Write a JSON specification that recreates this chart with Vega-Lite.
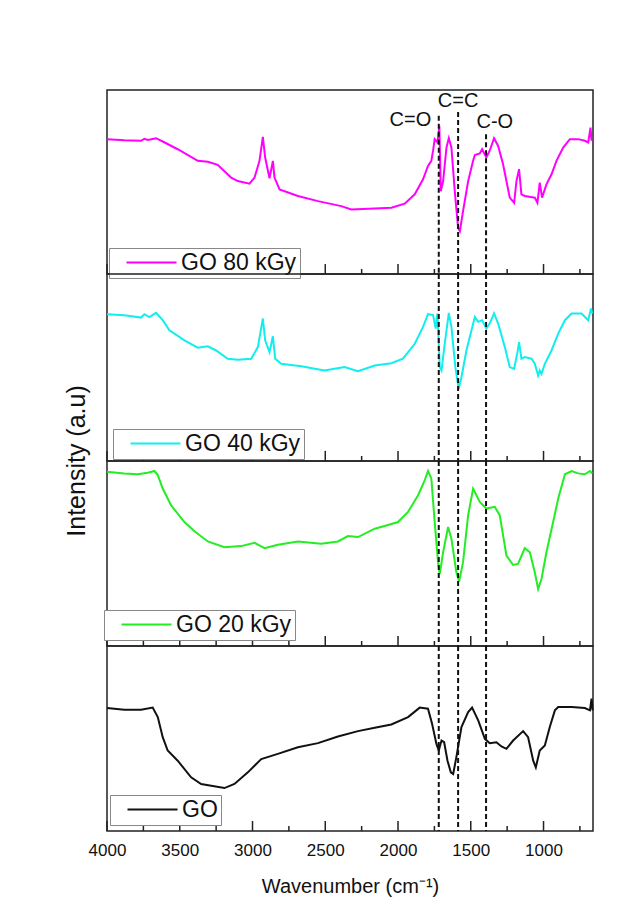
{
  "$schema": "https://vega.github.io/schema/vega-lite/v6.json",
  "background": "white",
  "padding": {"left": 63, "top": 89, "right": 46, "bottom": 10},
  "spacing": 0,
  "bounds": "flush",
  "config": {
    "font": "Liberation Sans",
    "view": {"stroke": "#222", "strokeWidth": 1.5},
    "axis": {"grid": false, "domain": false, "ticks": false},
    "legend": {"orient": "none", "title": null, "strokeColor": "#888", "fillColor": "white", "padding": 3, "labelFontSize": 23, "labelColor": "#111",
               "symbolType": "M-5,0H5", "symbolSize": 100, "symbolStrokeWidth": 2, "symbolOffset": 28, "labelOffset": 18, "labelLimit": 300}
  },
  "resolve": {"scale": {"color": "independent", "y": "independent"}, "legend": {"color": "independent"}},
  "datasets": {
    "tmaj": [{"w":4000},{"w":3500},{"w":3000},{"w":2500},{"w":2000},{"w":1500},{"w":1000}],
    "tmin": [{"w":3750},{"w":3250},{"w":2750},{"w":2250},{"w":1750},{"w":1250},{"w":750}],
    "marks": [
      {"w": 1720, "top": 86, "label": "C=O", "lx": 1915, "ly": 83.6},
      {"w": 1587, "top": 88, "label": "C=C", "lx": 1587, "ly": 94},
      {"w": 1395, "top": 76, "label": "C-O", "lx": 1335, "ly": 82.4}
    ],
    "s80": [
      {"w":4000,"v":73.3},{"w":3881,"v":72.7},{"w":3766,"v":72.4},{"w":3743,"v":73.5},{"w":3720,"v":72.8},{"w":3663,"v":73.8},{"w":3617,"v":72},{"w":3514,"v":67.8},{"w":3376,"v":61.5},{"w":3307,"v":61},{"w":3239,"v":59.3},{"w":3147,"v":52.4},{"w":3101,"v":50.5},{"w":3021,"v":49.1},{"w":2986,"v":52.4},{"w":2952,"v":61.5},{"w":2929,"v":74.5},{"w":2913,"v":63.3},{"w":2883,"v":52},{"w":2860,"v":61.5},{"w":2849,"v":52.4},{"w":2814,"v":46},{"w":2688,"v":42.4},{"w":2550,"v":39.6},{"w":2390,"v":36.9},{"w":2321,"v":35.1},{"w":2161,"v":35.6},{"w":2046,"v":36},{"w":1954,"v":38.2},{"w":1885,"v":43.3},{"w":1828,"v":51.5},{"w":1794,"v":58.7},{"w":1771,"v":61.5},{"w":1759,"v":67},{"w":1748,"v":73.3},{"w":1729,"v":71.5},{"w":1716,"v":80.5},{"w":1706,"v":45},{"w":1690,"v":50.5},{"w":1667,"v":68.7},{"w":1651,"v":73.8},{"w":1633,"v":68.7},{"w":1610,"v":45},{"w":1587,"v":25},{"w":1575,"v":23.3},{"w":1553,"v":34.2},{"w":1518,"v":50.5},{"w":1484,"v":61.5},{"w":1472,"v":64.7},{"w":1438,"v":65.5},{"w":1422,"v":67.8},{"w":1393,"v":63.3},{"w":1370,"v":67},{"w":1340,"v":73.8},{"w":1312,"v":69.6},{"w":1278,"v":59.6},{"w":1232,"v":41.5},{"w":1202,"v":38.7},{"w":1186,"v":50.5},{"w":1168,"v":57},{"w":1152,"v":43.3},{"w":1129,"v":42.4},{"w":1060,"v":41.5},{"w":1042,"v":38.7},{"w":1026,"v":49.6},{"w":1010,"v":41.5},{"w":980,"v":48.7},{"w":945,"v":54.2},{"w":911,"v":61.5},{"w":865,"v":68.7},{"w":819,"v":73.3},{"w":761,"v":73.3},{"w":716,"v":72.4},{"w":693,"v":71.5},{"w":677,"v":79.6},{"w":670,"v":72.4}
    ],
    "s40": [
      {"w":4000,"v":78.5},{"w":3881,"v":78},{"w":3766,"v":76.7},{"w":3743,"v":78.5},{"w":3709,"v":77},{"w":3663,"v":79.2},{"w":3617,"v":75.3},{"w":3571,"v":69.9},{"w":3468,"v":64.5},{"w":3376,"v":60.6},{"w":3307,"v":61.3},{"w":3250,"v":59.1},{"w":3170,"v":54.7},{"w":3101,"v":54.1},{"w":3009,"v":54.7},{"w":2963,"v":60.9},{"w":2929,"v":76.2},{"w":2913,"v":64.5},{"w":2883,"v":58.2},{"w":2860,"v":66.7},{"w":2844,"v":54.7},{"w":2803,"v":52},{"w":2665,"v":50.7},{"w":2505,"v":48.4},{"w":2367,"v":50.2},{"w":2275,"v":48},{"w":2160,"v":51.1},{"w":2046,"v":52.3},{"w":1966,"v":54.7},{"w":1885,"v":62.7},{"w":1828,"v":71.7},{"w":1794,"v":78.5},{"w":1759,"v":78},{"w":1741,"v":70.8},{"w":1729,"v":78.9},{"w":1713,"v":50.2},{"w":1701,"v":48.4},{"w":1679,"v":62.7},{"w":1651,"v":79.2},{"w":1633,"v":71.7},{"w":1606,"v":50.2},{"w":1583,"v":38.5},{"w":1564,"v":44.8},{"w":1530,"v":59.1},{"w":1495,"v":69.9},{"w":1472,"v":77.1},{"w":1449,"v":74.4},{"w":1422,"v":75.3},{"w":1393,"v":70.8},{"w":1370,"v":73.5},{"w":1340,"v":78.9},{"w":1312,"v":73.5},{"w":1266,"v":60.9},{"w":1232,"v":50.2},{"w":1202,"v":49.3},{"w":1179,"v":58.2},{"w":1168,"v":63.6},{"w":1152,"v":54.7},{"w":1129,"v":55.6},{"w":1083,"v":54.7},{"w":1060,"v":52},{"w":1037,"v":45.7},{"w":1026,"v":48.4},{"w":1014,"v":46.6},{"w":991,"v":52},{"w":945,"v":59.1},{"w":899,"v":68.1},{"w":853,"v":75.3},{"w":807,"v":78.9},{"w":739,"v":78.9},{"w":693,"v":75.3},{"w":674,"v":81.5},{"w":665,"v":78.9}
    ],
    "s20": [
      {"w":4000,"v":94.2},{"w":3881,"v":93.3},{"w":3789,"v":92.8},{"w":3720,"v":93.7},{"w":3674,"v":94.6},{"w":3651,"v":92.4},{"w":3617,"v":85.1},{"w":3560,"v":76.1},{"w":3468,"v":67},{"w":3399,"v":62},{"w":3307,"v":56.5},{"w":3193,"v":53.4},{"w":3078,"v":54},{"w":2986,"v":55.8},{"w":2917,"v":52.9},{"w":2826,"v":54.7},{"w":2688,"v":56.5},{"w":2528,"v":55.3},{"w":2413,"v":56.5},{"w":2344,"v":59.4},{"w":2275,"v":58.9},{"w":2160,"v":63.4},{"w":2092,"v":64.9},{"w":2000,"v":67},{"w":1931,"v":72.5},{"w":1862,"v":81.5},{"w":1816,"v":89.7},{"w":1794,"v":94.6},{"w":1771,"v":90.6},{"w":1748,"v":67},{"w":1725,"v":45.3},{"w":1713,"v":38.9},{"w":1690,"v":50.7},{"w":1656,"v":64.3},{"w":1633,"v":58},{"w":1599,"v":39.9},{"w":1580,"v":34.8},{"w":1553,"v":45.3},{"w":1518,"v":70.7},{"w":1484,"v":85.1},{"w":1438,"v":77.9},{"w":1393,"v":74.3},{"w":1335,"v":75.2},{"w":1301,"v":70.7},{"w":1255,"v":48.9},{"w":1209,"v":43.8},{"w":1175,"v":44.4},{"w":1129,"v":52.9},{"w":1094,"v":50.7},{"w":1060,"v":39.9},{"w":1037,"v":30.8},{"w":1014,"v":36.2},{"w":980,"v":50.7},{"w":934,"v":67},{"w":899,"v":79.7},{"w":853,"v":92.8},{"w":807,"v":94.6},{"w":761,"v":93.3},{"w":716,"v":92.8},{"w":681,"v":94.6},{"w":665,"v":93.3}
    ],
    "s0": [
      {"w":4000,"v":66.5},{"w":3881,"v":65.6},{"w":3766,"v":65.6},{"w":3686,"v":66.7},{"w":3651,"v":61.6},{"w":3617,"v":50.7},{"w":3583,"v":43.5},{"w":3514,"v":38},{"w":3422,"v":29},{"w":3353,"v":25.4},{"w":3284,"v":24.5},{"w":3193,"v":23.2},{"w":3124,"v":25.4},{"w":3032,"v":31.7},{"w":2940,"v":38.9},{"w":2826,"v":41.7},{"w":2688,"v":45.3},{"w":2550,"v":47.5},{"w":2413,"v":51.1},{"w":2275,"v":54},{"w":2160,"v":55.8},{"w":2046,"v":57.6},{"w":1931,"v":61.6},{"w":1851,"v":66.7},{"w":1794,"v":66.1},{"w":1766,"v":58},{"w":1736,"v":47.1},{"w":1720,"v":43.5},{"w":1701,"v":48.9},{"w":1683,"v":48},{"w":1660,"v":38},{"w":1637,"v":31.7},{"w":1621,"v":30.8},{"w":1599,"v":39.9},{"w":1564,"v":56.2},{"w":1518,"v":64.3},{"w":1491,"v":66.7},{"w":1449,"v":59.8},{"w":1403,"v":49.8},{"w":1370,"v":47.5},{"w":1324,"v":48},{"w":1289,"v":45.7},{"w":1255,"v":44.4},{"w":1209,"v":48.9},{"w":1140,"v":54},{"w":1106,"v":50.7},{"w":1071,"v":38},{"w":1053,"v":34.4},{"w":1026,"v":43.5},{"w":991,"v":46.2},{"w":957,"v":56.2},{"w":922,"v":65.2},{"w":899,"v":67},{"w":807,"v":67},{"w":716,"v":66.5},{"w":681,"v":65.2},{"w":670,"v":71.6},{"w":663,"v":65.2}
    ]
  },
  "vconcat": [
    {
      "width": 486, "height": 184,
      "layer": [
        {"data": {"name": "tmaj"}, "mark": {"type": "rule", "color": "#222", "strokeWidth": 1.5},
         "encoding": {"x": {"field": "w", "type": "quantitative", "scale": {"domain": [4000, 660], "nice": false, "zero": false}, "axis": null}, "y": {"datum": 0, "scale": {"domain": [0, 100], "nice": false}, "axis": null}, "y2": {"datum": 5.4}}},
        {"data": {"name": "tmin"}, "mark": {"type": "rule", "color": "#222", "strokeWidth": 1.5},
         "encoding": {"x": {"field": "w", "type": "quantitative", "axis": null}, "y": {"datum": 0, "axis": null}, "y2": {"datum": 2.7}}},
        {
          "data": {"name": "s80"},
          "mark": {"type": "line", "strokeWidth": 2},
          "encoding": {
            "x": {"field": "w", "type": "quantitative", "axis": null},
            "y": {"field": "v", "type": "quantitative", "axis": null},
            "color": {"datum": "GO 80 kGy", "type": "nominal", "scale": {"range": ["#ff00ff"]},
                      "legend": {"legendX": 2, "legendY": 158}}
          }
        },
        {
          "data": {"name": "marks"},
          "mark": {"type": "rule", "strokeDash": [5, 3], "strokeWidth": 2, "color": "#111"},
          "encoding": {"x": {"field": "w", "type": "quantitative", "axis": null}, "y": {"field": "top", "type": "quantitative", "axis": null}, "y2": {"datum": 0}}
        },
        {
          "data": {"name": "marks"},
          "mark": {"type": "text", "fontSize": 20, "color": "#111"},
          "encoding": {"x": {"field": "lx", "type": "quantitative", "axis": null}, "y": {"field": "ly", "type": "quantitative", "axis": null}, "text": {"field": "label"}}
        }
      ]
    },
    {
      "width": 486, "height": 187,
      "layer": [
        {"data": {"name": "tmaj"}, "mark": {"type": "rule", "color": "#222", "strokeWidth": 1.5},
         "encoding": {"x": {"field": "w", "type": "quantitative", "scale": {"domain": [4000, 660], "nice": false, "zero": false}, "axis": null},
                      "y": {"datum": 0, "scale": {"domain": [0, 100], "nice": false},
                            "axis": {"title": "Intensity (a.u)", "domain": false, "ticks": false, "labels": false, "titleY": 186.5, "titlePadding": 18, "titleFontSize": 25, "titleFontWeight": "normal", "titleColor": "#111"}},
                      "y2": {"datum": 5.4}}},
        {"data": {"name": "tmin"}, "mark": {"type": "rule", "color": "#222", "strokeWidth": 1.5},
         "encoding": {"x": {"field": "w", "type": "quantitative", "axis": null}, "y": {"datum": 0}, "y2": {"datum": 2.7}}},
        {
          "data": {"name": "s40"},
          "mark": {"type": "line", "strokeWidth": 2},
          "encoding": {
            "x": {"field": "w", "type": "quantitative", "axis": null},
            "y": {"field": "v", "type": "quantitative"},
            "color": {"datum": "GO 40 kGy", "type": "nominal", "scale": {"range": ["#11eeee"]},
                      "legend": {"legendX": 6, "legendY": 155}}
          }
        },
        {
          "data": {"name": "marks"},
          "mark": {"type": "rule", "strokeDash": [5, 3], "strokeWidth": 2, "color": "#111"},
          "encoding": {"x": {"field": "w", "type": "quantitative", "axis": null}}
        }
      ]
    },
    {
      "width": 486, "height": 185,
      "layer": [
        {"data": {"name": "tmaj"}, "mark": {"type": "rule", "color": "#222", "strokeWidth": 1.5},
         "encoding": {"x": {"field": "w", "type": "quantitative", "scale": {"domain": [4000, 660], "nice": false, "zero": false}, "axis": null}, "y": {"datum": 0, "scale": {"domain": [0, 100], "nice": false}, "axis": null}, "y2": {"datum": 5.4}}},
        {"data": {"name": "tmin"}, "mark": {"type": "rule", "color": "#222", "strokeWidth": 1.5},
         "encoding": {"x": {"field": "w", "type": "quantitative", "axis": null}, "y": {"datum": 0, "axis": null}, "y2": {"datum": 2.7}}},
        {
          "data": {"name": "s20"},
          "mark": {"type": "line", "strokeWidth": 2},
          "encoding": {
            "x": {"field": "w", "type": "quantitative", "axis": null},
            "y": {"field": "v", "type": "quantitative", "axis": null},
            "color": {"datum": "GO 20 kGy", "type": "nominal", "scale": {"range": ["#22ee22"]},
                      "legend": {"legendX": -3, "legendY": 149}}
          }
        },
        {
          "data": {"name": "marks"},
          "mark": {"type": "rule", "strokeDash": [5, 3], "strokeWidth": 2, "color": "#111"},
          "encoding": {"x": {"field": "w", "type": "quantitative", "axis": null}}
        }
      ]
    },
    {
      "width": 486, "height": 185,
      "layer": [
        {"data": {"name": "tmaj"}, "mark": {"type": "rule", "color": "#222", "strokeWidth": 1.5},
         "encoding": {"x": {"field": "w", "type": "quantitative", "scale": {"domain": [4000, 660], "nice": false, "zero": false},
                            "axis": {"values": [4000,3500,3000,2500,2000,1500,1000], "format": "d", "labelFlush": false, "labelOverlap": false,
                                     "labelFontSize": 17, "labelColor": "#111", "labelPadding": 11,
                                     "title": "Wavenumber (cm⁻¹)", "titleFontSize": 20, "titleFontWeight": "normal", "titleColor": "#111", "titlePadding": 18}},
                      "y": {"datum": 0, "scale": {"domain": [0, 100], "nice": false}, "axis": null}, "y2": {"datum": 5.4}}},
        {"data": {"name": "tmin"}, "mark": {"type": "rule", "color": "#222", "strokeWidth": 1.5},
         "encoding": {"x": {"field": "w", "type": "quantitative"}, "y": {"datum": 0, "axis": null}, "y2": {"datum": 2.7}}},
        {
          "data": {"name": "s0"},
          "mark": {"type": "line", "strokeWidth": 2},
          "encoding": {
            "x": {"field": "w", "type": "quantitative"},
            "y": {"field": "v", "type": "quantitative", "axis": null},
            "color": {"datum": "GO", "type": "nominal", "scale": {"range": ["#111111"]},
                      "legend": {"legendX": 3, "legendY": 149}}
          }
        },
        {
          "data": {"name": "marks"},
          "mark": {"type": "rule", "strokeDash": [5, 3], "strokeWidth": 2, "color": "#111"},
          "encoding": {"x": {"field": "w", "type": "quantitative"}}
        }
      ]
    }
  ]
}
